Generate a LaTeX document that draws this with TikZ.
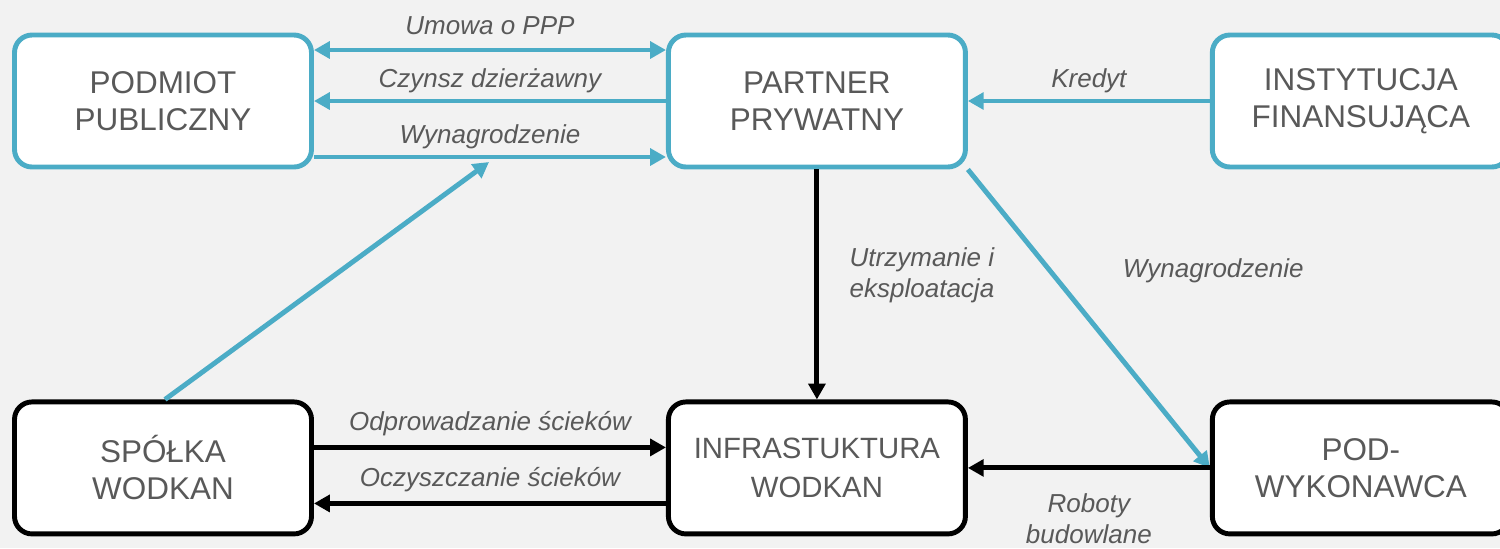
\documentclass[tikz,border=0pt]{standalone}
\usepackage{fontspec}
\setmainfont{Liberation Sans}
\usetikzlibrary{positioning,arrows.meta}
\definecolor{wodblue}{HTML}{4BACC6}
\definecolor{txtgray}{HTML}{595959}
\definecolor{bggray}{HTML}{F2F2F2}
\begin{document}
\begin{tikzpicture}[>={Triangle[length=9pt,width=9.5pt]},
	box/.style = {rectangle, rounded corners=10pt, line width=2.8pt, fill=white,
		minimum width=5.94cm, minimum height=2.64cm, align=center,
		text=txtgray, font=\fontsize{17.9}{21}\selectfont},
	blue node/.style = {box, draw=wodblue},
	black node/.style = {box, draw=black},
	blue link/.style = {->, line width=2.8pt, color=wodblue},
	black link/.style = {->, line width=2.8pt, color=black},
	lbl/.style = {text=txtgray, inner sep=3pt, font=\fontsize{14.8}{18}\selectfont\itshape}]
	\fill[bggray] (0,0) rectangle (30,-10.96);
	\useasboundingbox (0,0) rectangle (30,-10.96);
	\node[blue node] (podmiot) at (3.26,-2.02) {PODMIOT\\PUBLICZNY};
	\node[blue node] [right=7.04cm of podmiot] (partner) {PARTNER\\PRYWATNY};
	\node[blue node] [right=4.84cm of partner] (instytucja) {INSTYTUCJA\\FINANSUJĄCA};
	\node[black node] [below=4.6cm of podmiot] (spolka) {SPÓŁKA\\WODKAN};
	\node[black node,font=\fontsize{16.7}{22}\selectfont] [below=4.6cm of partner] (infra) {INFRASTUKTURA\\WODKAN};
	\node[black node] [below=4.6cm of instytucja] (podwyk) {POD-\\WYKONAWCA};
	\coordinate (wynend) at (9.78,-3.24);
	
	\path[blue link]
	([yshift=1.02cm]podmiot.east) edge [<->] node[lbl,above=4pt] {Umowa o PPP} ([yshift=1.02cm]partner.west)
	(partner.west) edge node[lbl,above=0pt] {Czynsz dzierżawny} (podmiot.east)
	([yshift=-1.12cm]podmiot.east) edge node[lbl,above=0pt] {Wynagrodzenie} ([yshift=-1.12cm]partner.west)
	(instytucja.west) edge node[lbl,above=0pt] {Kredyt} (partner.east)
	([xshift=0.04cm]spolka.north) edge (wynend)
	(partner.south east) edge node[lbl,pos=0.34,right=1.3cm] {Wynagrodzenie} (podwyk.west);
	
	\path[black link]
	(partner.south) edge node[lbl,pos=0.46,right=0.5cm,align=left] {Utrzymanie i\\eksploatacja} (infra.north)
	([yshift=0.41cm]spolka.east) edge node[lbl,above=2pt] {Odprowadzanie ścieków} ([yshift=0.41cm]infra.west)
	([yshift=-0.71cm]infra.west) edge node[lbl,above=2pt] {Oczyszczanie ścieków} ([yshift=-0.71cm]spolka.east)
	(podwyk.west) edge node[lbl,below=10pt,align=center] {Roboty\\budowlane} (infra.east);
\end{tikzpicture}
\end{document}
